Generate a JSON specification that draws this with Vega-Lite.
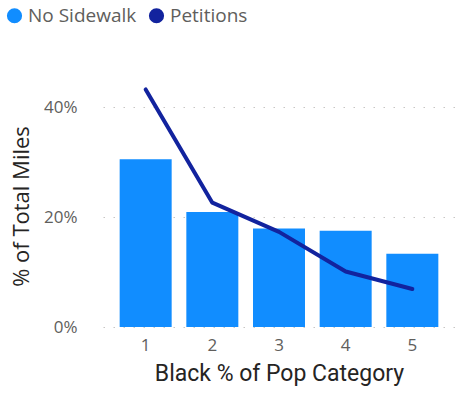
{
  "$schema": "https://vega.github.io/schema/vega-lite/v6.json",
  "width": 352,
  "height": 242,
  "autosize": {"type": "none"},
  "padding": {"left": 103, "top": 85, "right": 9, "bottom": 69},
  "background": "white",
  "config": {"view": {"stroke": null}, "font": "Open Sans"},
  "data": {
    "values": [
      {"category": "1", "series": "No Sidewalk", "value": 0.305},
      {"category": "2", "series": "No Sidewalk", "value": 0.209},
      {"category": "3", "series": "No Sidewalk", "value": 0.179},
      {"category": "4", "series": "No Sidewalk", "value": 0.175},
      {"category": "5", "series": "No Sidewalk", "value": 0.133},
      {"category": "1", "series": "Petitions", "value": 0.432},
      {"category": "2", "series": "Petitions", "value": 0.226},
      {"category": "3", "series": "Petitions", "value": 0.173},
      {"category": "4", "series": "Petitions", "value": 0.101},
      {"category": "5", "series": "Petitions", "value": 0.069}
    ]
  },
  "encoding": {
    "x": {
      "field": "category",
      "type": "ordinal",
      "scale": {"paddingInner": 0.22, "paddingOuter": 0.25},
      "axis": {
        "title": "Black % of Pop Category",
        "titleFont": "Roboto",
        "titleFontSize": 23,
        "titleFontWeight": "normal",
        "titleColor": "#252423",
        "titlePadding": 9,
        "labelAngle": 0,
        "labelFontSize": 17,
        "labelColor": "#605E5C",
        "labelPadding": 10,
        "domain": false,
        "ticks": false
      }
    },
    "y": {
      "field": "value",
      "type": "quantitative",
      "scale": {"domain": [0, 0.44]},
      "axis": {
        "title": "% of Total Miles",
        "titleFontSize": 22,
        "titleFontWeight": "normal",
        "titleColor": "#252423",
        "titlePadding": 10,
        "values": [0, 0.2, 0.4],
        "format": ".0%",
        "labelFontSize": 17,
        "labelColor": "#605E5C",
        "labelPadding": 26,
        "domain": false,
        "ticks": false,
        "grid": true,
        "gridColor": "#C8C6C4",
        "gridDash": [1.5, 8.5],
        "gridWidth": 1.2
      }
    },
    "color": {
      "field": "series",
      "type": "nominal",
      "scale": {"domain": ["No Sidewalk", "Petitions"], "range": ["#118DFF", "#12239E"]},
      "legend": {
        "title": null,
        "orient": "none",
        "legendX": -98,
        "legendY": -79,
        "direction": "horizontal",
        "symbolType": "circle",
        "symbolSize": 230,
        "symbolStrokeWidth": 0,
        "labelFontSize": 19,
        "labelColor": "#605E5C",
        "labelOffset": 4,
        "columnPadding": 10
      }
    }
  },
  "layer": [
    {
      "transform": [{"filter": "datum.series == 'No Sidewalk'"}],
      "mark": {"type": "bar"}
    },
    {
      "transform": [{"filter": "datum.series == 'Petitions'"}],
      "mark": {"type": "line", "strokeWidth": 4, "strokeCap": "round", "strokeJoin": "round"}
    }
  ]
}
